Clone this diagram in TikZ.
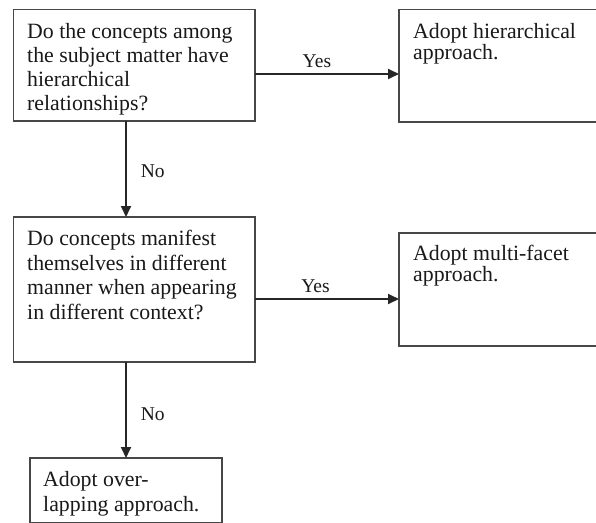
\documentclass[tikz,border=0pt]{standalone}
\usepackage{fontspec}
\setmainfont{Liberation Serif}
\usetikzlibrary{arrows.meta}
\begin{document}
\begin{tikzpicture}[x=1pt,y=-1pt,
  box/.style={draw=black!72, line width=1.6pt, inner sep=0pt, outer sep=0pt, anchor=north west},
  txt/.style={inner sep=0pt, anchor=north west, align=left, text=black!90},
  arr/.style={draw=black!85, line width=1.8pt, -{Triangle[length=11pt,width=10pt]}},
  lbl/.style={inner sep=0pt, text=black!90, font=\fontsize{19.5}{22}\selectfont}]
\useasboundingbox[fill=white] (0,0) rectangle (596,522);
% boxes
\node[box, minimum width=241.5pt, minimum height=111.5pt] (b1) at (13.5,9.5) {};
\node[box, minimum width=206pt, minimum height=112.5pt] (b2) at (399,9.5) {};
\node[box, minimum width=241.5pt, minimum height=145pt] (b3) at (13.5,217) {};
\node[box, minimum width=206pt, minimum height=113pt] (b4) at (399,233) {};
\node[box, minimum width=192pt, minimum height=65pt] (b5) at (30,458) {};
% texts
\node[txt, font=\fontsize{21.8}{24}\selectfont] (t1) at (27,23.3)
  {Do the concepts among\\the subject matter have\\hierarchical\\relationships?};
\node[txt, font=\fontsize{21.8}{19}\selectfont] (t2) at (413,23.3)
  {Adopt hierarchical\\approach.};
\node[txt, font=\fontsize{21.8}{24.5}\selectfont] (t3) at (27,230.3)
  {Do concepts manifest\\themselves in different\\manner when appearing\\in different context?};
\node[txt, font=\fontsize{21.8}{19.5}\selectfont] (t4) at (413,245.3)
  {Adopt multi-facet\\approach.};
\node[txt, font=\fontsize{21.8}{25}\selectfont] (t5) at (43,471.3)
  {Adopt over-\\lapping approach.};
% helper coordinates
\coordinate (ya) at (0,74);
\coordinate (yb) at (0,299);
\coordinate (xa) at (126,0);
% connectors
\draw[arr] (b1.east |- ya) -- node[lbl, pos=0.43, anchor=base, yshift=7pt] (l1) {Yes} (b2.west |- ya);
\draw[arr] (b3.east |- yb) -- node[lbl, pos=0.42, anchor=base, yshift=7pt] (l2) {Yes} (b4.west |- yb);
\draw[arr] (b1.south -| xa) -- node[lbl, pos=0.52, anchor=west, xshift=14pt] (l3) {No} (b3.north -| xa);
\draw[arr] (b3.south -| xa) -- node[lbl, pos=0.54, anchor=west, xshift=14pt] (l4) {No} (b5.north -| xa);
\end{tikzpicture}
\end{document}
